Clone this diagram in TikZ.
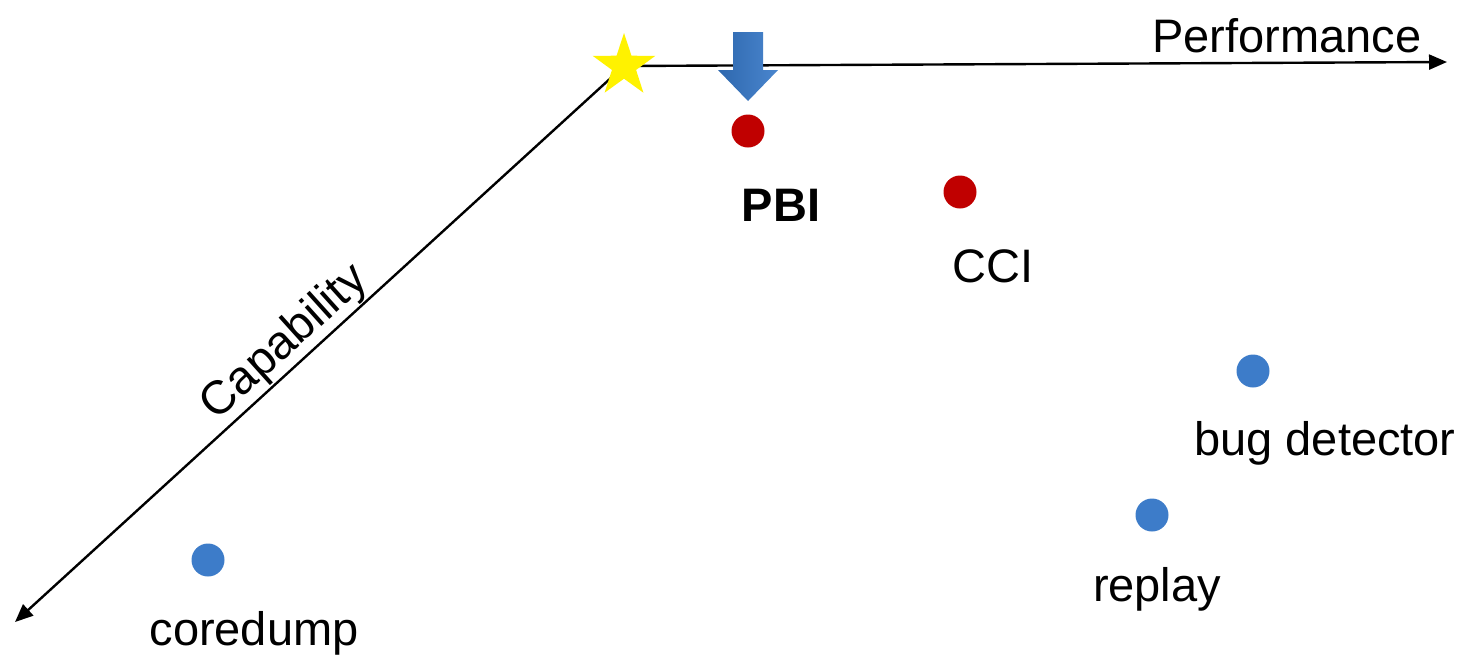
\documentclass[tikz,border=0pt]{standalone}
\usepackage{fontspec}
\setmainfont{Liberation Sans}
\usetikzlibrary{shapes.geometric, arrows.meta}

\definecolor{dotred}{RGB}{192,0,0}
\definecolor{dotblue}{RGB}{61,124,201}
\definecolor{arrdark}{RGB}{46,104,174}
\definecolor{arrlight}{RGB}{74,134,206}

\begin{document}
\begin{tikzpicture}[x=0.5pt, y=-0.5pt, every node/.style={font=\fontsize{23.5}{28}\selectfont}, axis/.style={line width=1.2pt, -{Triangle[length=9pt, width=7.5pt]}}, dot/.style={circle, inner sep=0pt, minimum size=16.5pt, fill=#1}, lbl/.style={inner sep=0pt}]
	\useasboundingbox (0,0) rectangle (1465,659);

	% axes start at the star
	\coordinate (origin) at (624,66);
	\coordinate (perfend) at (1447,62);
	\coordinate (capend) at (15,622);
	\draw[axis] (origin) -- (perfend);
	\draw[axis] (origin) -- (capend);
	\node[star, star points=5, star point ratio=2.6, minimum size=33pt, inner sep=0pt, fill=yellow] (best) at (624,66) {};

	\node[lbl] (perf) at (1287,36) {Performance};
	\node[lbl, rotate=42] (cap) at (285,343) {Capability};

	% the tools
	\node[dot=dotred] (pbi) at (748,131) {};
	\node[dot=dotred] (cci) at (960,192) {};
	\node[dot=dotblue] (bug) at (1253,371) {};
	\node[dot=dotblue] (replay) at (1152,515) {};
	\node[dot=dotblue] (core) at (208,560) {};

	\node[lbl, font=\fontsize{23.5}{28}\selectfont\bfseries] (pbilbl) at (781,205) {PBI};
	\node[lbl] (ccilbl) at (993,266) {CCI};
	\node[lbl] (buglbl) at (1325,443) {bug detector};
	\node[lbl] (replaylbl) at (1157,589) {replay};
	\node[lbl] (corelbl) at (254,633) {coredump};

	% block arrow pointing at PBI
	\shade[left color=arrdark, right color=arrlight] (733,32) -- (763,32) -- (763,70) -- (778,70) -- (748,101) -- (718,70) -- (733,70) -- cycle;
\end{tikzpicture}
\end{document}
